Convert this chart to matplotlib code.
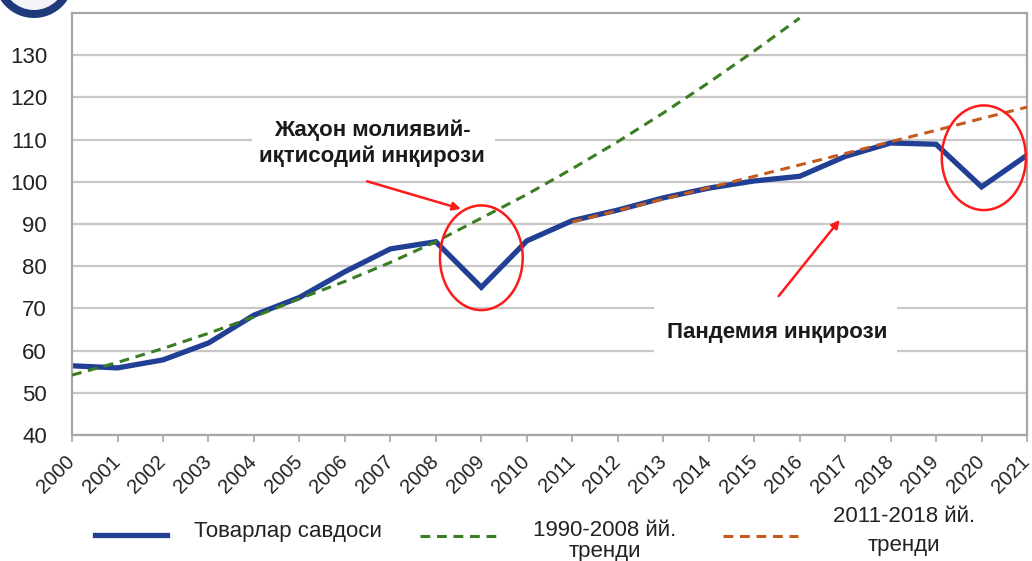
import numpy as np
import matplotlib.pyplot as plt
from matplotlib.patches import Ellipse, Rectangle
from matplotlib.lines import Line2D

plt.rcParams['font.family'] = ['Liberation Sans', 'DejaVu Sans']

# goods trade index, 2000-2021
years = list(range(2000, 2022))
trade = [56.4, 55.9, 57.8, 61.8, 68.4, 72.6, 78.7, 84.1, 85.8, 75.0, 86.0,
         90.8, 93.3, 96.2, 98.5, 100.2, 101.3, 106.0, 109.2, 108.9, 98.8, 106.3]

# 1990-2008 trend, extended to 2016
trend1_years = list(range(2000, 2017))
trend1 = [54.2, 57.2, 60.5, 64.1, 68.0, 72.3, 76.4, 80.9, 85.8, 91.4, 97.0,
          103.1, 109.5, 116.3, 123.5, 131.0, 138.8]

# 2011-2018 trend, extended to 2021
trend2_years = list(range(2011, 2022))
trend2 = [90.5, 93.2, 95.9, 98.6, 101.3, 104.0, 106.7, 109.5, 112.2, 115.0, 117.7]

blue = '#213f94'
green = '#3a7d22'
orange = '#c55a1e'
txt = '#222222'

fig = plt.figure(figsize=(10.32, 5.61), dpi=100)
ax = fig.add_axes([0.0698, 0.2246, 0.9254, 0.7522])

ax.plot(trend1_years, trend1, color=green, lw=2.2, dashes=(3.2, 2.2), zorder=3)
ax.plot(years, trade, color=blue, lw=3.8, solid_joinstyle='miter', zorder=2)
ax.plot(trend2_years, trend2, color=orange, lw=2.2, dashes=(3.2, 2.2), zorder=3)

ax.set_xlim(2000, 2021)
ax.set_ylim(40, 140)
ax.set_yticks(range(40, 140, 10))
ax.set_xticks(years)
ax.set_xticklabels([str(y) for y in years], rotation=45, ha='right', va='center',
                   rotation_mode='anchor', fontsize=14.5, color=txt)
ax.tick_params(axis='y', length=0, labelsize=16, pad=18, labelcolor=txt)
ax.tick_params(axis='x', length=5, color='#a6a6a6', width=1.2, pad=12)
ax.grid(axis='y', color='#c8c8c8', lw=1.6)
ax.set_axisbelow(True)
for s in ax.spines.values():
    s.set_color('#a6a6a6')
    s.set_linewidth(1.6)

# crisis markers
ax.add_patch(Ellipse((2009.0, 82.0), 1.82, 24.8, fill=False, ec='#ff1a1a', lw=1.8, zorder=5))
ax.add_patch(Ellipse((2020.05, 105.7), 1.85, 24.8, fill=False, ec='#ff1a1a', lw=1.8, zorder=5,
                     clip_on=False))

# white backing boxes for the two notes
ax.add_patch(Rectangle((2003.96, 101.6), 5.34, 15.0, fc='white', ec='none', zorder=1.5))
ax.add_patch(Rectangle((2012.79, 57.8), 5.36, 13.6, fc='white', ec='none', zorder=1.5))

ax.text(2006.6, 109.2, 'Жаҳон молиявий-\nиқтисодий инқирози', ha='center', va='center',
        fontsize=16, fontweight='bold', linespacing=1.3, color='#1a1a1a', zorder=6)
ax.annotate('', xy=(2008.61, 93.4), xytext=(2006.43, 100.3),
            arrowprops=dict(arrowstyle='-|>', color='#ff1a1a', lw=1.8,
                            mutation_scale=12), zorder=6)

ax.text(2015.5, 64.3, 'Пандемия инқирози', ha='center', va='center',
        fontsize=16, fontweight='bold', color='#1a1a1a', zorder=6)
ax.annotate('', xy=(2016.92, 91.5), xytext=(2015.5, 72.4),
            arrowprops=dict(arrowstyle='-|>', color='#ff1a1a', lw=1.8,
                            mutation_scale=12), zorder=6)

# legend row drawn in figure coordinates
def fx(px):
    return px / 1032

def fy(py):
    return 1 - py / 561

fig.add_artist(Line2D([fx(95), fx(167)], [fy(535), fy(535)], color=blue, lw=3.8))
fig.text(fx(288), fy(531), 'Товарлар савдоси', ha='center', va='center', fontsize=16,
         color=txt)
fig.add_artist(Line2D([fx(420), fx(497)], [fy(536), fy(536)], color=green, lw=2.2,
                      dashes=(3.2, 2.2)))
fig.text(fx(605), fy(530), '1990-2008 йй.', ha='center', va='center', fontsize=16, color=txt)
fig.text(fx(605), fy(551), 'тренди', ha='center', va='center', fontsize=16, color=txt)
fig.add_artist(Line2D([fx(723), fx(798)], [fy(536), fy(536)], color=orange, lw=2.2,
                      dashes=(3.2, 2.2)))
fig.text(fx(904), fy(517), '2011-2018 йй.', ha='center', va='center', fontsize=16, color=txt)
fig.text(fx(904), fy(546), 'тренди', ha='center', va='center', fontsize=16, color=txt)

# emblem at the top-left corner
for r, c in [(40, '#1f3a7a'), (32, '#f2f4f8')]:
    fig.add_artist(Ellipse((fx(34), fy(-22)), 2 * r / 1032, 2 * r / 561,
                           transform=fig.transFigure, fc=c, ec='none'))

fig.savefig('out.png', dpi=100)
